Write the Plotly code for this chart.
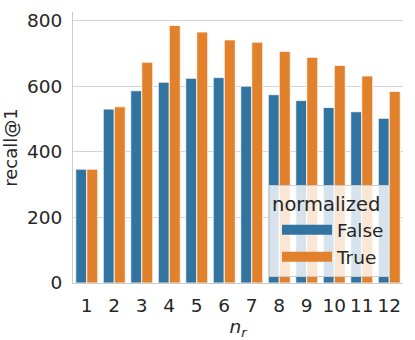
import plotly.graph_objects as go

n_r = [1, 2, 3, 4, 5, 6, 7, 8, 9, 10, 11, 12]
recall_false = [347, 530, 586, 612, 624, 626, 600, 574, 556, 535, 522, 502]
recall_true = [347, 537, 673, 785, 765, 741, 734, 706, 688, 663, 631, 584]
legend_title = "normalized"
series_names = ["False", "True"]
colors = ["#3274A1", "#E1812C"]

FONT = "DejaVu Sans"
TXT = "#262626"

fig = go.Figure()
for name, vals, col in zip(series_names, [recall_false, recall_true], colors):
    fig.add_trace(go.Bar(
        x=n_r, y=vals, name=name, showlegend=False,
        marker=dict(color=col, line=dict(color="rgba(255,255,255,0.8)", width=1)),
    ))
    # legend proxy with wide rectangle symbol
    fig.add_trace(go.Scatter(
        x=[None], y=[None], mode="lines", name=name,
        line=dict(color=col, width=11),
    ))

fig.update_layout(
    width=415, height=340,
    margin=dict(l=73, r=12, t=12, b=57, autoexpand=False),
    paper_bgcolor="white", plot_bgcolor="white",
    barmode="group", bargap=0.2, bargroupgap=0,
    font=dict(family=FONT, size=18, color=TXT),
    showlegend=True,
    legend=dict(
        title=dict(text=legend_title, font=dict(size=19.5, color=TXT)),
        x=0.594, y=0.362, xanchor="left", yanchor="top",
        bgcolor="rgba(255,255,255,0.8)", bordercolor="#cccccc", borderwidth=1,
        font=dict(size=18.5, color=TXT),
        tracegroupgap=0, itemwidth=50, indentation=7,
    ),
    xaxis=dict(
        range=[0.5, 12.5], tickvals=n_r, ticktext=[str(v) for v in n_r],
        showgrid=False, zeroline=False, automargin=False,
        showline=True, linecolor="#cccccc", linewidth=1,
        ticks="outside", ticklen=6, tickcolor="rgba(0,0,0,0)",
        title=dict(text="<i>n</i><sub><i>r</i></sub>", font=dict(size=18.5), standoff=3),
        tickfont=dict(size=18.5),
    ),
    yaxis=dict(
        range=[0, 826], tickvals=[0, 200, 400, 600, 800],
        showgrid=True, gridcolor="#d5d5d5", gridwidth=1, zeroline=False, automargin=False,
        showline=True, linecolor="#cccccc", linewidth=1,
        ticks="outside", ticklen=6, tickcolor="rgba(0,0,0,0)",
        title=dict(text="recall@1", font=dict(size=18), standoff=6),
        tickfont=dict(size=18.5),
    ),
)

fig.write_html(
    "out.html",
    config={"displayModeBar": False},
    post_script="document.body.style.margin='0';document.body.style.overflow='hidden';",
)
